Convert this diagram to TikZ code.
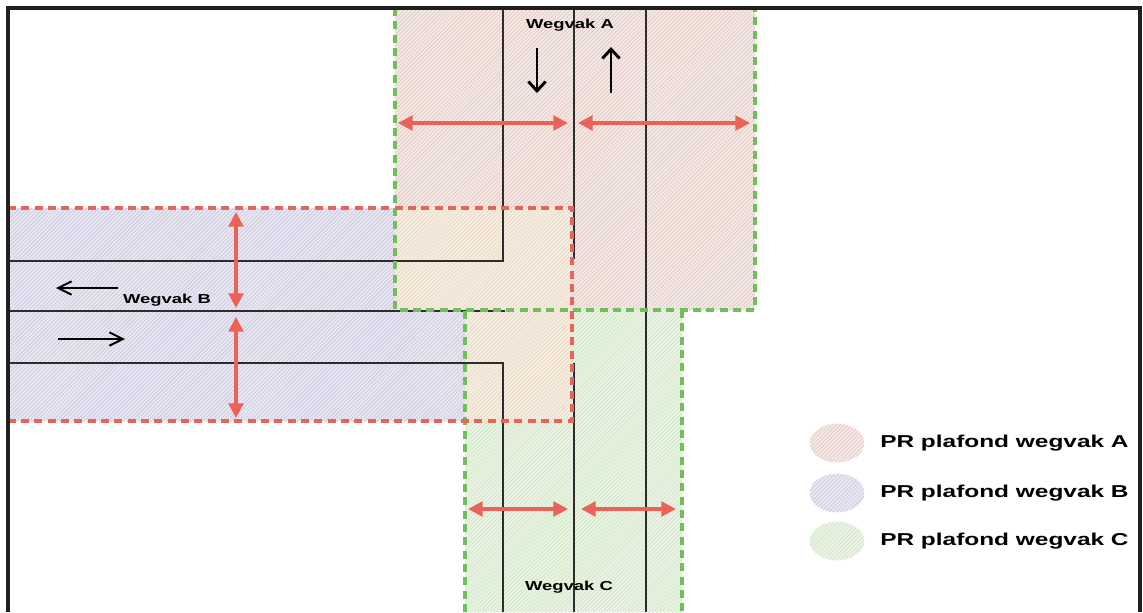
\documentclass[tikz,border=0pt]{standalone}
\usepackage{fontspec}
\setmainfont{Liberation Sans}
\usetikzlibrary{patterns.meta,arrows.meta,shapes.geometric}
\definecolor{fillA}{RGB}{245,233,230}
\definecolor{hatchA}{RGB}{224,196,190}
\definecolor{fillB}{RGB}{233,232,242}
\definecolor{hatchB}{RGB}{198,194,218}
\definecolor{fillC}{RGB}{235,244,228}
\definecolor{hatchC}{RGB}{204,228,194}
\definecolor{fillX}{RGB}{247,238,226}
\definecolor{hatchX}{RGB}{230,212,192}
\definecolor{dashgreen}{RGB}{112,190,92}
\definecolor{dashred}{RGB}{232,100,90}
\definecolor{arrred}{RGB}{234,98,88}
\definecolor{roadline}{RGB}{45,45,45}
\newfontfamily\labfont{Liberation Sans}
\tikzset{
  hatchfill/.style 2 args={preaction={fill=#1}, pattern={Lines[angle=45,distance=2.1pt,line width=0.45pt]}, pattern color=#2},
  road/.style={draw=roadline, line width=1.2pt},
  gborder/.style={draw=dashgreen, line width=2.8pt, dash pattern=on 6pt off 4pt},
  rborder/.style={draw=dashred, line width=2.8pt, dash pattern=on 6pt off 4pt},
  widtharrow/.style={draw=arrred, line width=2.6pt, {Triangle[length=11pt,width=11pt]}-{Triangle[length=11pt,width=11pt]}},
  dirarrowA/.style={draw=black, line width=2.2pt, -{Straight Barb[length=7pt,width=13pt,line width=2.2pt]}},
  dirarrowB/.style={draw=black, line width=1.5pt, -{Straight Barb[length=10pt,width=10pt,line width=1.5pt]}},
  roadlabel/.style={font=\labfont\bfseries\fontsize{9.75}{11}\selectfont, inner sep=0pt},
  legendtext/.style={font=\labfont\bfseries\fontsize{12.9}{14}\selectfont, inner sep=0pt, anchor=west},
  legendblob/.style={ellipse, minimum width=41pt, minimum height=29pt, inner sep=0pt},
  frameline/.style={draw=black!88, line width=2.8pt},
}
\begin{document}
\begin{tikzpicture}[x=0.75pt,y=-0.75pt]
\useasboundingbox (0,0) rectangle (1143,612);
\fill[white] (0,0) rectangle (1143,612);
% fills
\path[hatchfill={fillA}{hatchA}] (395,8) rectangle (755,310);
\path[hatchfill={fillB}{hatchB}] (8,208) rectangle (572,421);
\path[hatchfill={fillC}{hatchC}] (465,310) rectangle (682,612);
\path[hatchfill={fillX}{hatchX}] (395,208) rectangle (572,310);
\path[hatchfill={fillX}{hatchX}] (465,310) rectangle (572,421);
% road lines
\draw[road] (503,8) -- (503,261) -- (8,261);
\draw[road] (574,8) -- (574,259);
\draw[road] (574,363) -- (574,612);
\draw[road] (646,8) -- (646,612);
\draw[road] (8,311) -- (505,311);
\draw[road] (8,363) -- (503,363) -- (503,612);
% borders
\draw[gborder] (395,8) -- (395,310) -- (755,310) -- (755,8);
\draw[gborder] (465,612) -- (465,310);
\draw[gborder] (682,310) -- (682,612);
\draw[rborder] (8,208) -- (572,208) -- (572,421) -- (8,421);
% width arrows
\coordinate (a1l) at (398,123); \coordinate (a1r) at (568,123);
\coordinate (a2l) at (578,123); \coordinate (a2r) at (750,123);
\draw[widtharrow] (a1l) -- (a1r);
\draw[widtharrow] (a2l) -- (a2r);
\coordinate (b1t) at (236,212); \coordinate (b1b) at (236,308);
\coordinate (b2t) at (236,317); \coordinate (b2b) at (236,418);
\draw[widtharrow] (b1t) -- (b1b);
\draw[widtharrow] (b2t) -- (b2b);
\coordinate (c1l) at (468,509); \coordinate (c1r) at (568,509);
\coordinate (c2l) at (581,509); \coordinate (c2r) at (676,509);
\draw[widtharrow] (c1l) -- (c1r);
\draw[widtharrow] (c2l) -- (c2r);
% direction arrows
\coordinate (dA1s) at (537,48); \coordinate (dA1e) at (537,93);
\coordinate (dA2s) at (611,93); \coordinate (dA2e) at (611,47);
\draw[dirarrowA] (dA1s) -- (dA1e);
\draw[dirarrowA] (dA2s) -- (dA2e);
\coordinate (dB1s) at (118,288); \coordinate (dB1e) at (56,288);
\coordinate (dB2s) at (58,339); \coordinate (dB2e) at (125,339);
\draw[dirarrowB] (dB1s) -- (dB1e);
\draw[dirarrowB] (dB2s) -- (dB2e);
% labels
\node[roadlabel] (labA) at (570,25) {\scalebox{1.42}[1]{Wegvak A}};
\node[roadlabel] (labB) at (167,300) {\scalebox{1.42}[1]{Wegvak B}};
\node[roadlabel] (labC) at (569,587) {\scalebox{1.42}[1]{Wegvak C}};
% legend
\node[legendblob, hatchfill={fillA}{hatchA}] (legA) at (837,443) {};
\node[legendblob, hatchfill={fillB}{hatchB}] (legB) at (837,493) {};
\node[legendblob, hatchfill={fillC}{hatchC}] (legC) at (837,541) {};
\node[legendtext] (txtA) at (880,443) {\scalebox{1.42}[1]{PR plafond wegvak A}};
\node[legendtext] (txtB) at (880,493) {\scalebox{1.42}[1]{PR plafond wegvak B}};
\node[legendtext] (txtC) at (880,541) {\scalebox{1.42}[1]{PR plafond wegvak C}};
% frame
\draw[frameline] (8,612) -- (8,8) -- (1140,8) -- (1140,612);
\end{tikzpicture}
\end{document}
